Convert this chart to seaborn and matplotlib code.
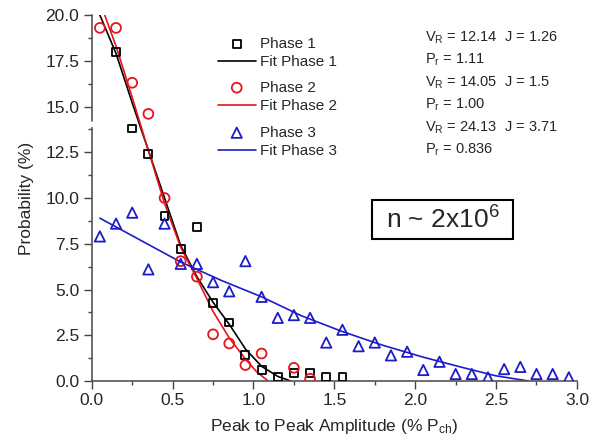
import numpy as np
import pandas as pd
import matplotlib
matplotlib.use("Agg")
import matplotlib.pyplot as plt
import matplotlib.patches as mpatches
import seaborn as sns

# %% Data
bins = [0.05, 0.15, 0.25, 0.35, 0.45, 0.55, 0.65, 0.75, 0.85, 0.95,
        1.05, 1.15, 1.25, 1.35, 1.45, 1.55, 1.65, 1.75, 1.85, 1.95,
        2.05, 2.15, 2.25, 2.35, 2.45, 2.55, 2.65, 2.75, 2.85, 2.95]

phase1_x = bins[1:16]
phase1_y = [18.0, 13.8, 12.4, 9.0, 7.2, 8.4, 4.25, 3.2, 1.4, 0.62, 0.2, 0.45, 0.45, 0.2, 0.2]

phase2_x = bins[0:11] + [1.25, 1.35]
phase2_y = [19.3, 19.3, 16.3, 14.6, 10.0, 6.55, 5.7, 2.55, 2.05, 0.87, 1.5, 0.72, 0.12]

phase3_x = bins
phase3_y = [7.9, 8.6, 9.2, 6.1, 8.6, 6.4, 6.4, 5.4, 4.9, 6.55,
            4.6, 3.45, 3.6, 3.45, 2.1, 2.8, 1.9, 2.1, 1.4, 1.6,
            0.6, 1.05, 0.38, 0.38, 0.2, 0.65, 0.77, 0.38, 0.38, 0.2]

fit1_x = [0.05, 0.15, 0.25, 0.35, 0.45, 0.55, 0.65, 0.75, 0.85, 0.95, 1.05, 1.15, 1.23]
fit1_y = [20.0, 17.9, 15.2, 12.6, 10.0, 7.4, 5.7, 4.3, 3.1, 1.75, 0.8, 0.25, 0.0]

fit2_x = [0.08, 0.15, 0.25, 0.35, 0.45, 0.55, 0.65, 0.75, 0.85, 0.95, 1.02, 1.09]
fit2_y = [20.0, 18.3, 15.5, 12.6, 9.7, 7.3, 5.6, 3.8, 2.35, 1.2, 0.5, 0.0]

fit3_x = [0.05, 0.3, 0.55, 0.8, 1.05, 1.3, 1.55, 1.8, 2.05, 2.3, 2.5, 2.7]
fit3_y = [8.9, 7.7, 6.5, 5.5, 4.6, 3.55, 2.7, 1.95, 1.3, 0.72, 0.28, 0.0]

phase_names = ["Phase 1", "Phase 2", "Phase 3"]
fit_names = ["Fit Phase 1", "Fit Phase 2", "Fit Phase 3"]
colors = ["black", "#e8141c", "#1c1cc8"]
markers = ["s", "o", "^"]
marker_sizes = [32, 50, 55]

fit_text = [(r"V$_R$ = 12.14  J = 1.26", r"P$_r$ = 1.11"),
            (r"V$_R$ = 14.05  J = 1.5", r"P$_r$ = 1.00"),
            (r"V$_R$ = 24.13  J = 3.71", r"P$_r$ = 0.836")]

# %% Plot
sns.set_theme(style="ticks")
plt.rcParams["font.family"] = ["Liberation Sans", "DejaVu Sans"]
plt.rcParams["mathtext.fontset"] = "custom"
plt.rcParams["mathtext.rm"] = "Liberation Sans"
plt.rcParams["mathtext.it"] = "Liberation Sans"

fig = plt.figure(figsize=(5.96, 4.43), dpi=100)
ax = fig.add_axes([0.154, 0.140, 0.814, 0.826])

points = [(phase1_x, phase1_y), (phase2_x, phase2_y), (phase3_x, phase3_y)]
fits = [(fit1_x, fit1_y), (fit2_x, fit2_y), (fit3_x, fit3_y)]

for i in range(3):
    pts = pd.DataFrame({"x": points[i][0], "y": points[i][1]})
    fit = pd.DataFrame({"x": fits[i][0], "y": fits[i][1]})
    sns.lineplot(data=fit, x="x", y="y", ax=ax, color=colors[i], lw=1.2,
                 label=fit_names[i], sort=False)
    sns.scatterplot(data=pts, x="x", y="y", ax=ax, marker=markers[i],
                    s=marker_sizes[i], facecolors="none", edgecolor=colors[i],
                    linewidth=1.3, label=phase_names[i], zorder=3)

handles, labels = ax.get_legend_handles_labels()
lookup = dict(zip(labels, handles))
ax.get_legend().remove()

# grouped legends: marker + fit line per phase
pair_centres = [53, 97, 142]
for i in range(3):
    leg = ax.legend([lookup[phase_names[i]], lookup[fit_names[i]]],
                    [phase_names[i], fit_names[i]],
                    loc="center left", bbox_to_anchor=(210 / 596, 1 - pair_centres[i] / 443),
                    bbox_transform=fig.transFigure, frameon=False, fontsize=11,
                    handlelength=2.5, handletextpad=0.3, borderpad=0,
                    labelspacing=0.3, scatterpoints=1)
    if i < 2:
        ax.add_artist(leg)

# fit parameters
text_rows = [38, 60, 83, 105, 128, 150]
for i in range(3):
    fig.text(425 / 596, 1 - text_rows[2 * i] / 443, fit_text[i][0],
             fontsize=10.5, va="center", ha="left")
    fig.text(425 / 596, 1 - text_rows[2 * i + 1] / 443, fit_text[i][1],
             fontsize=10.5, va="center", ha="left")

# sample size box
box = mpatches.Rectangle((372 / 596, 1 - 239 / 443), 141 / 596, 39 / 443,
                         transform=fig.transFigure, facecolor="white",
                         edgecolor="black", linewidth=1.5, zorder=4)
fig.patches.append(box)
fig.text(443 / 596, 1 - 220 / 443, r"n ~ 2x10$^6$", fontsize=19,
         ha="center", va="center", zorder=5)

ax.set_xlim(0, 3.0)
ax.set_ylim(0, 20.0)
ax.set_xticks(np.arange(0, 3.01, 0.5))
ax.set_xticks(np.arange(0, 3.01, 0.25), minor=True)
ax.set_yticks(np.arange(0, 20.01, 2.5))
ax.set_yticks(np.arange(0, 20.01, 1.25), minor=True)
ax.xaxis.set_major_formatter(matplotlib.ticker.FormatStrFormatter("%.1f"))
ax.yaxis.set_major_formatter(matplotlib.ticker.FormatStrFormatter("%.1f"))
ax.tick_params(axis="both", which="major", length=6, width=1, color="#444444",
               labelsize=12.5, pad=3)
ax.tick_params(axis="both", which="minor", length=3, width=1, color="#444444")

sns.despine(ax=ax)
for side in ["left", "bottom"]:
    ax.spines[side].set_color("#555555")
    ax.spines[side].set_linewidth(1.2)

# y axis break between 12.5 and 15.0
ax.spines["left"].set_bounds(0, 13.8)
ax.plot([0, 0], [14.2, 20.0], color="#555555", lw=1.2, clip_on=False,
        transform=ax.get_yaxis_transform(), zorder=5)

ax.set_xlabel(r"Peak to Peak Amplitude (% P$_{ch}$)", fontsize=12.5, labelpad=6)
ax.set_ylabel("Probability (%)", fontsize=12.5, labelpad=8)

fig.savefig("out.png", dpi=100)
